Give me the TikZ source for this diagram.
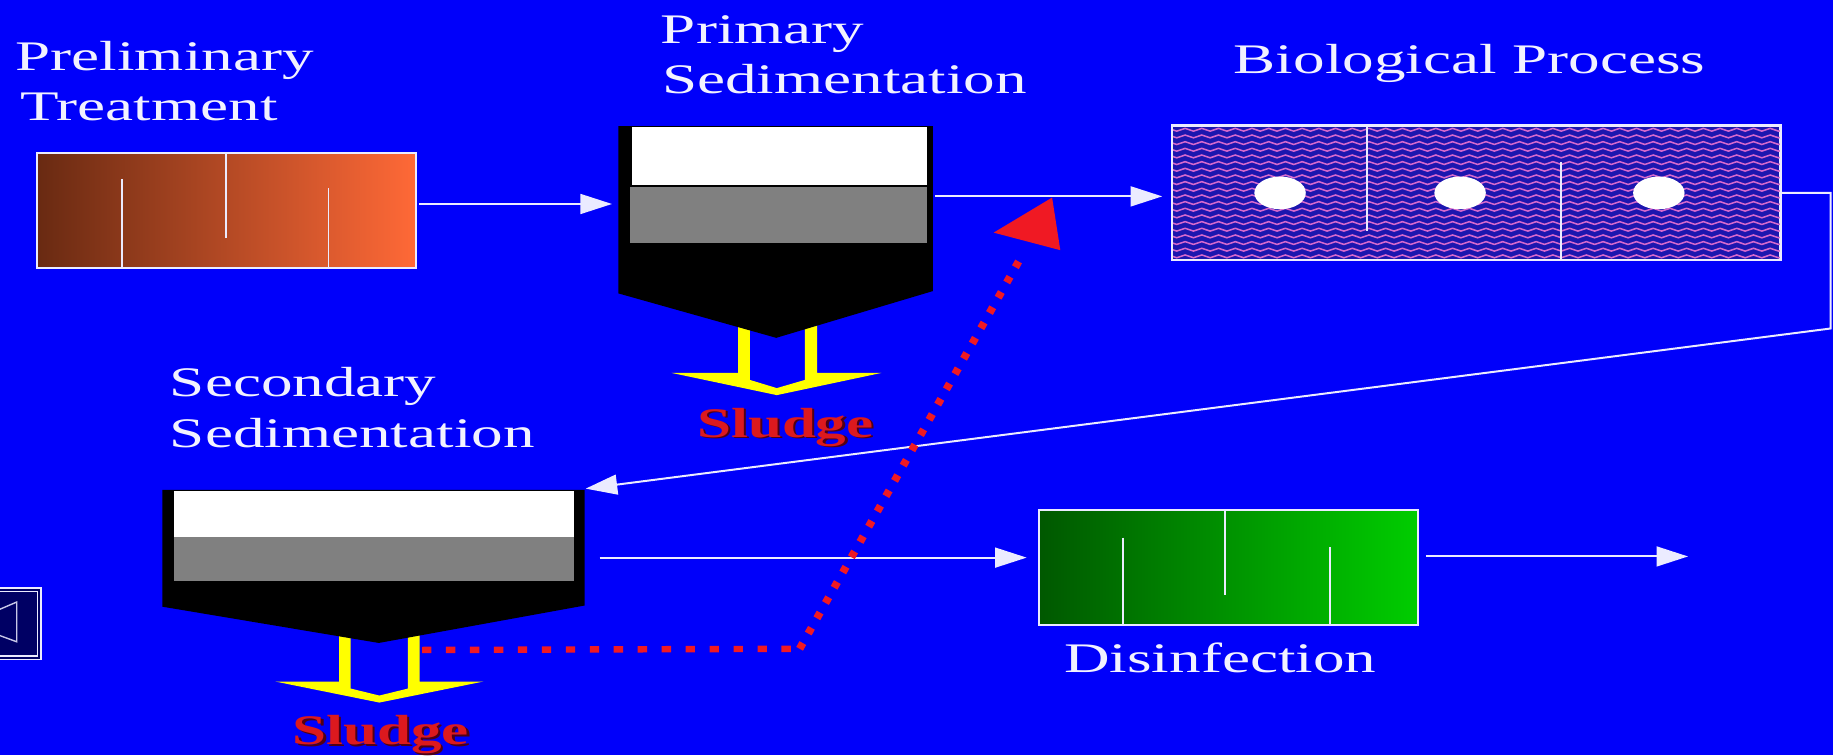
\documentclass[tikz,border=0pt]{standalone}
\usepackage{fontspec}
\usetikzlibrary{arrows.meta,decorations.pathmorphing}
\newfontfamily\labfont[FakeStretch=1.5]{Liberation Serif}
\newfontfamily\sludgefont[FakeStretch=1.45]{Liberation Serif}
\definecolor{bg}{RGB}{0,0,250}
\definecolor{wl}{RGB}{235,235,255}
\definecolor{txt}{RGB}{242,242,255}
\definecolor{brownL}{RGB}{105,42,18}
\definecolor{brownR}{RGB}{255,105,55}
\definecolor{greenL}{RGB}{0,88,0}
\definecolor{greenR}{RGB}{0,205,0}
\definecolor{tankgray}{RGB}{128,128,128}
\definecolor{yel}{RGB}{255,255,0}
\definecolor{sred}{RGB}{220,25,30}
\definecolor{sshadow}{RGB}{80,0,20}
\definecolor{dotred}{RGB}{240,25,35}
\definecolor{waveblue}{RGB}{28,22,175}
\definecolor{wavepink}{RGB}{215,105,205}
\definecolor{navy}{RGB}{0,0,100}
\begin{document}
\begin{tikzpicture}[x=0.5pt,y=-0.5pt,
  lab/.style={text=txt, font=\labfont\fontsize{18}{21}\selectfont, anchor=base west, inner sep=0},
  sludgelab/.style={font=\sludgefont\bfseries\fontsize{18}{21}\selectfont, anchor=base west, inner sep=0},
  wline/.style={draw=wl, line width=0.85pt},
  flow/.style={wline, -{Triangle[length=13.5pt,width=8.5pt]}},
  box/.style={draw=wl, line width=0.8pt, inner sep=0},
  baffle/.style={draw=wl, line width=0.85pt},
  ghost/.style={inner sep=0, outer sep=0},
  wave/.style={draw=wavepink, line width=0.65pt, decorate, decoration={snake, segment length=7.15pt, amplitude=0.6pt}},
  dotsH/.style={draw=dotred, line width=2.75pt, dash pattern=on 4pt off 6.25pt},
  dotsD/.style={draw=dotred, line width=3.3pt, dash pattern=on 2.8pt off 4.7pt},
]
\useasboundingbox (0,0) rectangle (1568,646);
\clip (0,0) rectangle (1568,646);
\fill[bg] (0,0) rectangle (1568,646);

% ---------- labels ----------
\node[lab] (tPre1) at (13,60) {Preliminary};
\node[lab] (tPre2) at (17,103) {Treatment};
\node[lab] (tPri1) at (565,37) {Primary};
\node[lab] (tPri2) at (566,80) {Sedimentation};
\node[lab] (tBio) at (1055,63) {Biological Process};
\node[lab] (tSec1) at (145,339) {Secondary};
\node[lab] (tSec2) at (145,383) {Sedimentation};
\node[lab] (tDis) at (910,575) {Disinfection};

% ---------- preliminary treatment ----------
\node[box, left color=brownL, right color=brownR, minimum width=162pt, minimum height=49pt] (prelim) at (194,180) {};
\draw[baffle] (104,153) -- (104,229);
\draw[baffle] (193,131) -- (193,204);
\draw[baffle] (281,161) -- (281,229);

% ---------- primary sedimentation ----------
\node[ghost, minimum width=134.5pt, minimum height=90.5pt] (primary) at (663.5,198.5) {};
\fill[yel, even odd rule]
  (631.5,276) -- (631.5,319) -- (574.5,319) -- (664.5,338) -- (754,319) -- (699,319) -- (699,276) -- cycle
  (641.5,276) -- (641.5,325) -- (664.5,332) -- (688.5,325) -- (688.5,276) -- cycle;
\fill[black] (529,108) -- (798,108) -- (798,249) -- (664,289) -- (529,251) -- cycle;
\fill[white] (541,109) rectangle (793,158);
\fill[tankgray] (539,160) rectangle (793,208);
\node[sludgelab, text=sshadow] (sludgeAsh) at (598,375.5) {Sludge};
\node[sludgelab, text=sred] (sludgeA) at (596,374) {Sludge};

% ---------- biological process ----------
\node[box, fill=waveblue, minimum width=260pt, minimum height=57pt] (bio) at (1263,165) {};
\begin{scope}
  \clip (1003,108) rectangle (1523,222);
  \foreach \yy in {111,116.7,...,222} \draw[wave] (995,\yy) -- (1530,\yy);
\end{scope}
\draw[baffle] (1169,108) -- (1169,198);
\draw[baffle] (1335,139) -- (1335,222);
\fill[white] (1095,165) ellipse (22 and 14);
\fill[white] (1249,165) ellipse (22 and 14);
\fill[white] (1419,165) ellipse (22 and 14);
\draw[box] (bio.south west) rectangle (bio.north east);

% ---------- secondary sedimentation ----------
\node[ghost, minimum width=180.5pt, minimum height=65.5pt] (secondary) at (319.5,484.5) {};
\fill[yel, even odd rule]
  (290,538) -- (290,583) -- (235.5,583) -- (324.5,601) -- (413.5,583) -- (359,583) -- (359,538) -- cycle
  (300,538) -- (300,589) -- (324.5,595) -- (349,589) -- (349,538) -- cycle;
\fill[black] (139,419) -- (500,419) -- (500,518) -- (324,550) -- (139,519) -- cycle;
\fill[white] (149,420) rectangle (491,459);
\fill[tankgray] (149,459) rectangle (491,497);
\node[sludgelab, text=sshadow] (sludgeBsh) at (252,638.5) {Sludge};
\node[sludgelab, text=sred] (sludgeB) at (250,637) {Sludge};

% ---------- disinfection ----------
\node[box, left color=greenL, right color=greenR, minimum width=162pt, minimum height=49.5pt] (disinf) at (1051,485.5) {};
\draw[baffle] (961,460) -- (961,535);
\draw[baffle] (1048,436) -- (1048,509);
\draw[baffle] (1138,468) -- (1138,535);

% ---------- icon ----------
\node[draw=wl, double=navy, line width=0.6pt, double distance=0.9pt, fill=navy, minimum width=19.25pt, minimum height=29pt, inner sep=0] (icon) at (14.25,533.5) {};
\draw[wl!85!navy, line width=0.6pt] (-2,522) -- (14.3,515) -- (14.3,549) -- (-2,543);

% ---------- flow connectors ----------
\draw[flow, shorten >=2.75pt] ([shift={(1pt,2.75pt)}]prelim.east) coordinate (pOut) -- (pOut -| primary.west);
\draw[flow, shorten >=4pt] ([shift={(1pt,15.25pt)}]primary.east) coordinate (qOut) -- (qOut -| bio.west);
\coordinate (bend1) at (1566,165);
\coordinate (bend2) at (1566,281);
\draw[flow] (bio.east) -- (bend1) -- (bend2) -- ([shift={(0.5pt,0.5pt)}]secondary.north east);
\draw[flow, shorten >=5pt] ([shift={(6.5pt,3.75pt)}]secondary.east) coordinate (sOut) -- (sOut -| disinf.west);
\coordinate (finalEnd) at (1444,476);
\draw[flow] ([shift={(3pt,4.75pt)}]disinf.east) -- (finalEnd);

% ---------- sludge return (red dotted) ----------
\coordinate (rStart) at (361,556);
\coordinate (rCorner) at (684,555);
\coordinate (rEnd) at (874,219);
\draw[dotsH] (rStart) -- (rCorner);
\draw[dotsD] (rCorner) -- (rEnd);
\coordinate (rTip) at (900,169);
\coordinate (rLeft) at (850,199);
\coordinate (rRight) at (907,214);
\fill[dotred] (rTip) -- (rLeft) -- (rRight) -- cycle;
\end{tikzpicture}
\end{document}
